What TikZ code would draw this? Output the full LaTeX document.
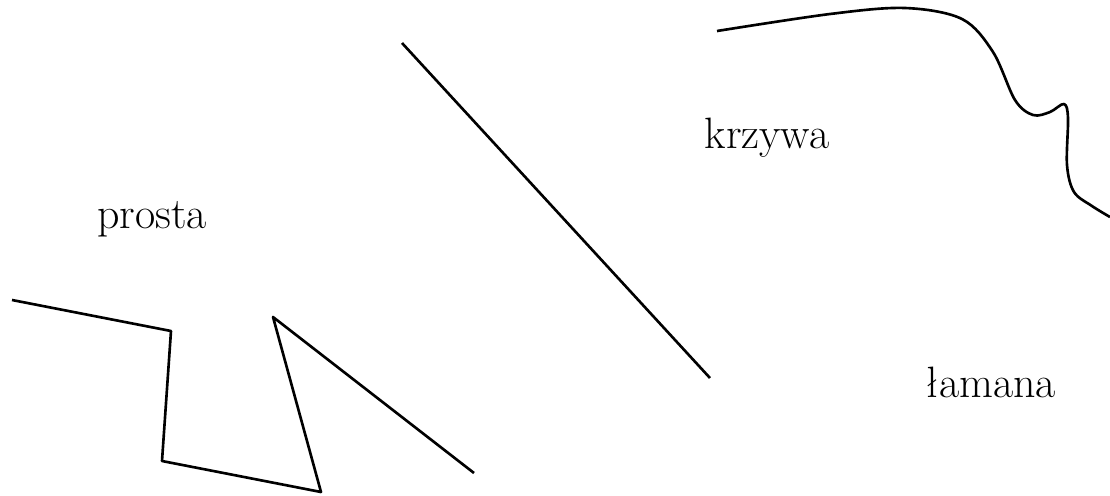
\documentclass[tikz,border=0pt]{standalone}
\usepackage{tikz}
\begin{document}
\begin{tikzpicture}[x=0.02cm,y=-0.02cm,line width=1.5pt,line join=round,
  every node/.style={font=\fontsize{25}{30}\selectfont,anchor=base}]
  \useasboundingbox (0,0) rectangle (1110,495);
  % prosta
  \draw (402,43) -- (710,378);
  \node (prosta) at (152,228) {prosta};
  % krzywa
  \draw plot[smooth,tension=0.55] coordinates {(717,31) (830,14) (905,8) (962,19) (993,52) (1015,100) (1033,115) (1050,112) (1064,104) (1068,118) (1067,165) (1074,192) (1092,206) (1110,217)};
  \node (krzywa) at (767,148) {krzywa};
  % lamana
  \draw (12,300) -- (171,331) -- (162,461) -- (321,492) -- (273,317) -- (474,473);
  \node (lamana) at (991,397) {łamana};
\end{tikzpicture}
\end{document}
